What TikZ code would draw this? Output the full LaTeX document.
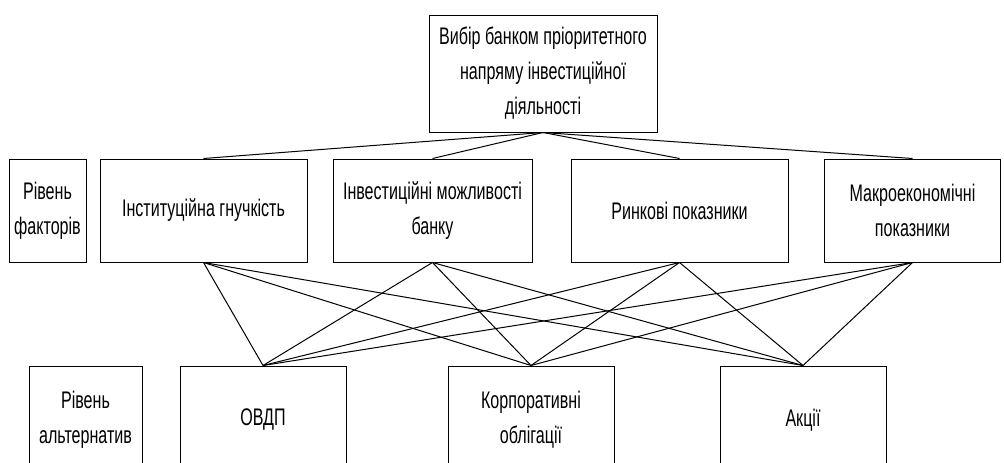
\documentclass[tikz,border=0pt]{standalone}
\usepackage{fontspec}
\setmainfont{Liberation Sans}[FakeStretch=0.67]
\usepackage{tikz}

\begin{document}
\begin{tikzpicture}[
x=1pt, y=-1pt,
level/.style={rectangle, draw, line width=1pt, inner sep=0pt, align=center, font=\fontsize{24}{35}\selectfont},
link/.style={line width=1pt}
]
\useasboundingbox (0,0) rectangle (1004,463);
\clip (0,0) rectangle (1004,463);

% goal
\node[level, minimum width=228pt, minimum height=117pt] (goal) at (543,73.5) {Вибір банком пріоритетного\\напряму інвестиційної\\діяльності};

% factors
\node[level, minimum width=77pt, minimum height=103pt] (lvlf) at (47.5,210.5) {Рівень\\факторів};
\node[level, minimum width=207pt, minimum height=103pt] (inst) at (203.5,210.5) {Інституційна гнучкість};
\node[level, minimum width=199pt, minimum height=103pt] (invest) at (432.5,210.5) {Інвестиційні можливості\\банку};
\node[level, minimum width=217pt, minimum height=103pt] (market) at (679.5,210.5) {Ринкові показники};
\node[level, minimum width=176pt, minimum height=103pt] (macro) at (912.5,210.5) {Макроекономічні\\показники};

% alternatives
\node[level, minimum width=113pt, minimum height=108pt] (lvla) at (85.5,420) {Рівень\\альтернатив};
\node[level, minimum width=166pt, minimum height=108pt] (ovdp) at (263,420) {ОВДП};
\node[level, minimum width=166pt, minimum height=108pt] (corp) at (531,420) {Корпоративні\\облігації};
\node[level, minimum width=166pt, minimum height=108pt] (shares) at (803,420) {Акції};

\draw[link] (goal.south) -- (inst.north);
\draw[link] (goal.south) -- (invest.north);
\draw[link] (goal.south) -- (market.north);
\draw[link] (goal.south) -- (macro.north);

\draw[link] (inst.south) -- (ovdp.north);
\draw[link] (inst.south) -- (corp.north);
\draw[link] (inst.south) -- (shares.north);
\draw[link] (invest.south) -- (ovdp.north);
\draw[link] (invest.south) -- (corp.north);
\draw[link] (invest.south) -- (shares.north);
\draw[link] (market.south) -- (ovdp.north);
\draw[link] (market.south) -- (corp.north);
\draw[link] (market.south) -- (shares.north);
\draw[link] (macro.south) -- (ovdp.north);
\draw[link] (macro.south) -- (corp.north);
\draw[link] (macro.south) -- (shares.north);

\end{tikzpicture}
\end{document}
